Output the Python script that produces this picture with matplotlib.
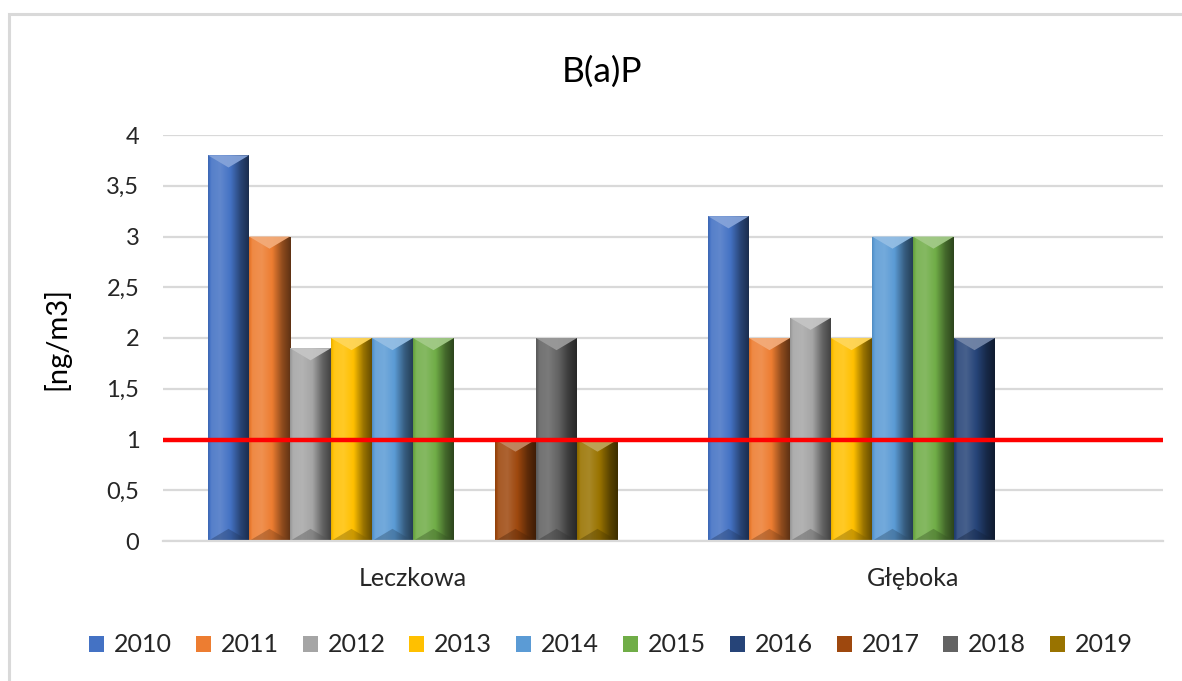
import matplotlib
matplotlib.use("Agg")
import matplotlib.pyplot as plt
import numpy as np
from matplotlib.patches import Polygon, Rectangle
from matplotlib.colors import to_rgb
from matplotlib.ticker import FuncFormatter

plt.rcParams['font.family'] = ['Lato', 'DejaVu Sans']

# data
stations = ["Leczkowa", "Głęboka"]
years = ["2010", "2011", "2012", "2013", "2014", "2015", "2016", "2017", "2018", "2019"]
leczkowa = [3.8, 3.0, 1.9, 2.0, 2.0, 2.0, np.nan, 1.0, 2.0, 1.0]
gleboka = [3.2, 2.0, 2.2, 2.0, 3.0, 3.0, 2.0, np.nan, np.nan, np.nan]
limit_value = 1.0
colors = ["#4472C4", "#ED7D31", "#A5A5A5", "#FFC000", "#5B9BD5",
          "#70AD47", "#264478", "#9E480E", "#636363", "#997300"]

values = np.array([leczkowa, gleboka])  # shape (stations, years)


def shade(c, b):
    c = np.array(to_rgb(c))
    if b >= 0:
        return c + (1 - c) * b
    return c * (1 + b)


def bevel(ax, bar, color):
    # horizontal gradient + light top chevron + dark bottom chevron
    h = bar.get_height()
    if not np.isfinite(h) or h <= 0:
        return
    x0, w = bar.get_x(), bar.get_width()
    t = np.linspace(0, 1, 80)
    b = np.interp(t, [0, 0.08, 0.3, 0.55, 0.8, 1.0], [-0.1, 0.1, 0.15, 0.0, -0.4, -0.6])
    img = np.array([[shade(color, v) for v in b]])
    im = ax.imshow(img, extent=[x0, x0 + w, 0, h], aspect='auto',
                   interpolation='bilinear', zorder=2.1)
    im.set_clip_path(bar)
    d = 0.12
    xc = x0 + w / 2
    top = Polygon([(x0, h), (x0 + w, h), (xc, h - d)], closed=True,
                  facecolor=shade(color, 0.35), edgecolor='none', alpha=0.95, zorder=2.2)
    bot = Polygon([(x0, 0), (x0 + w, 0), (xc, d)], closed=True,
                  facecolor=shade(color, -0.5), edgecolor='none', alpha=0.4, zorder=2.2)
    ax.add_patch(top)
    ax.add_patch(bot)


fig = plt.figure(figsize=(11.82, 6.81), dpi=100)
ax = fig.add_axes([163 / 1182, 140 / 681, 1000 / 1182, 406 / 681])

x = np.arange(len(stations))
n = len(years)
width = 0.082
for i, (yr, col) in enumerate(zip(years, colors)):
    bars = ax.bar(x + (i - (n - 1) / 2) * width, values[:, i], width,
                  color=col, label=yr, zorder=2)
    for bar in bars:
        bevel(ax, bar, col)

ax.axhline(limit_value, color="#FF0000", lw=3.2, zorder=4)

ax.set_xlim(-0.5, 1.5)
ax.set_ylim(0, 4)
ax.set_yticks(np.arange(0, 4.01, 0.5))
ax.yaxis.set_major_formatter(FuncFormatter(lambda v, p: ("%g" % v).replace('.', ',')))
ax.set_xticks(x)
ax.set_xticklabels(stations)
ax.grid(axis='y', color="#D9D9D9", lw=1.6, zorder=0)
ax.set_axisbelow(True)
for s in ["top", "right", "left"]:
    ax.spines[s].set_visible(False)
ax.spines["bottom"].set_color("#D9D9D9")
ax.spines["bottom"].set_linewidth(1.6)
ax.tick_params(axis='y', length=0, pad=17, labelsize=17, labelcolor="#262626")
ax.tick_params(axis='x', length=0, pad=19, labelsize=18, labelcolor="#262626")
ax.set_ylabel("[ng/m3]", fontsize=21, color="#000000", labelpad=10)
ax.yaxis.set_label_coords(-93 / 1000, 0.5)

fig.text(602 / 1182, 1 - 72 / 681, "B(a)P", fontsize=25.5, ha='center', va='center', color="#000000")

leg = fig.legend(loc='center', bbox_to_anchor=(611 / 1182, 1 - 645 / 681), ncol=10,
                 frameon=False, fontsize=18, handlelength=0.6, handleheight=0.6,
                 handletextpad=0.4, columnspacing=0.95, borderaxespad=0)
for t in leg.get_texts():
    t.set_color("#262626")

# chart border
fig.patches.append(Rectangle((9 / 1182, -0.05), 1.2, 1 - 14 / 681 + 0.05,
                             transform=fig.transFigure, fill=False,
                             edgecolor="#D9D9D9", lw=2.2))

fig.savefig("out.png", dpi=100)
